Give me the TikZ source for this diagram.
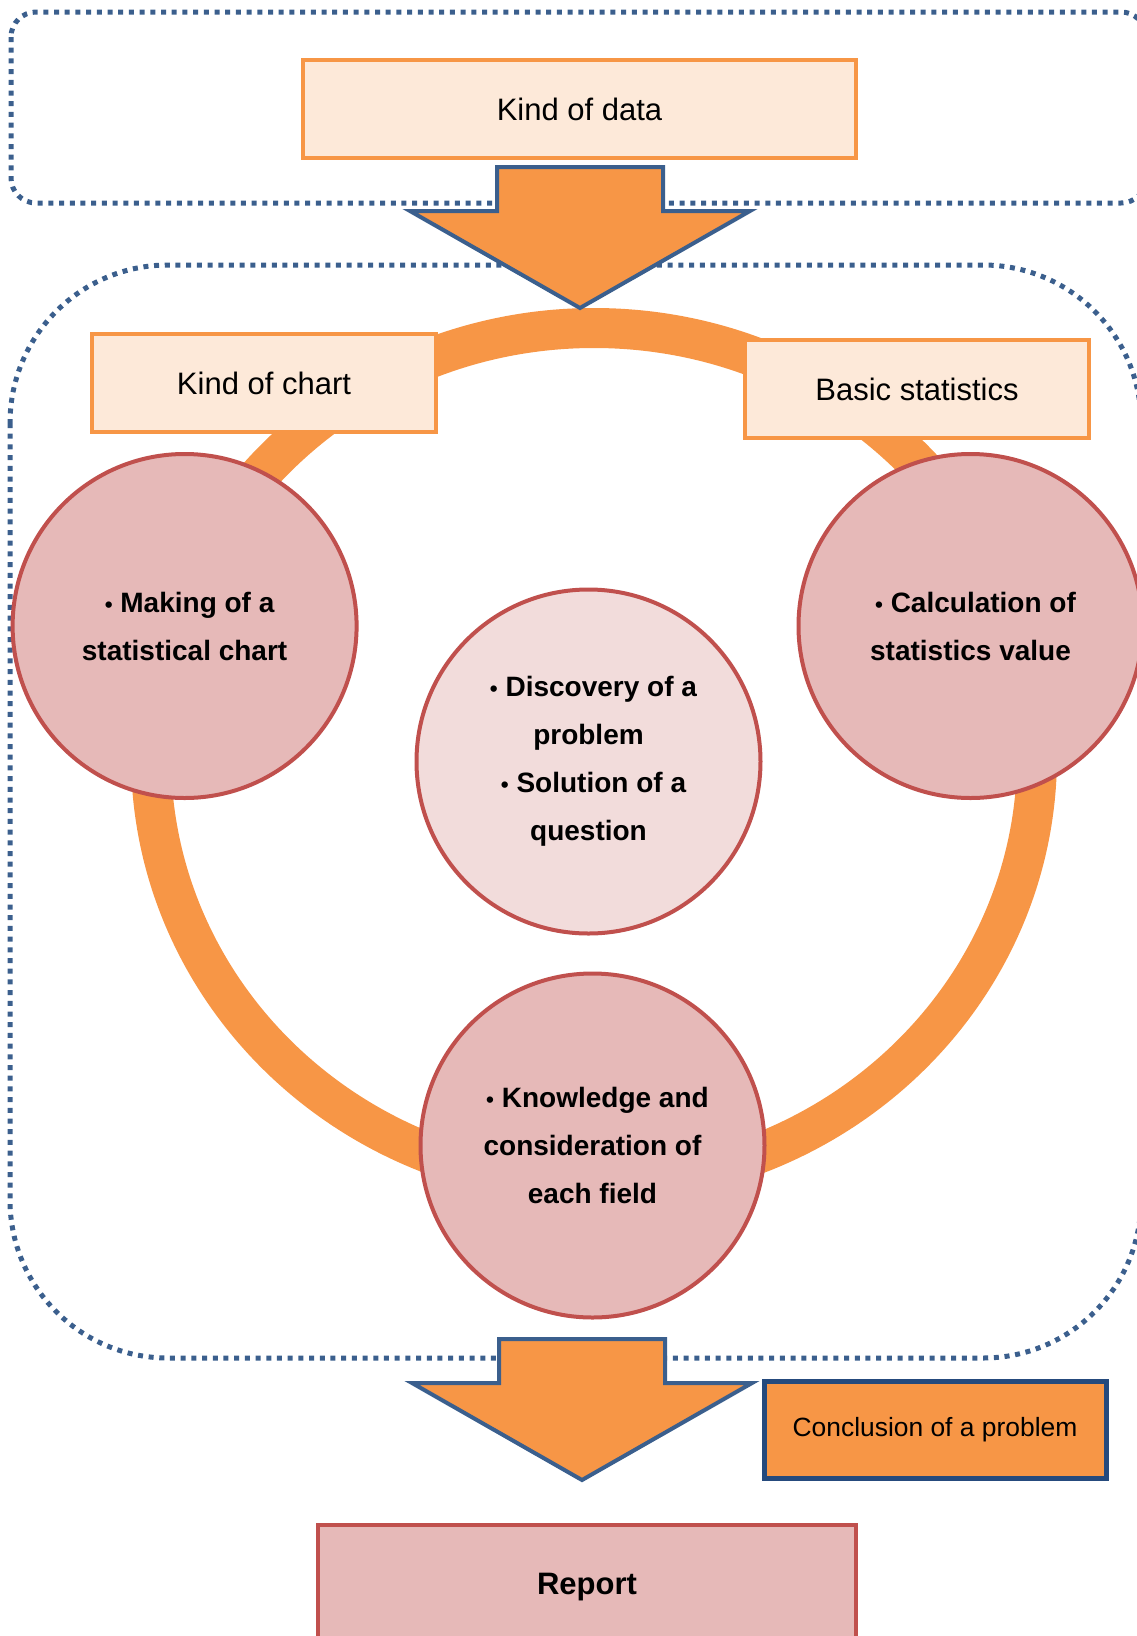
\documentclass[tikz,border=0pt]{standalone}
\usepackage{fontspec}
\setmainfont{Liberation Sans}
\usepackage{tikz}
\usetikzlibrary{positioning}
\definecolor{Pumpkin}{HTML}{F79646}
\definecolor{Peach}{HTML}{FDE9D9}
\definecolor{Brick}{HTML}{C0504D}
\definecolor{Rose}{HTML}{E6B9B8}
\definecolor{Blush}{HTML}{F2DCDB}
\definecolor{Steel}{HTML}{3B5F8D}
\definecolor{Navy}{HTML}{254A7D}

% bullet of the activity lists
\newcommand{\actdot}{\hspace*{10pt}\scalebox{0.8}{•}\ }

\tikzset{
  bigarrow/.pic={
    \draw[blockarrow] (-83,0) -- (83,0) -- (83,44) -- (170,44) -- (0,141)
      -- (-170,44) -- (-83,44) -- cycle;
  }
}

\begin{document}
\begin{tikzpicture}[
    x=1pt, y=-1pt,
    topic/.style={draw=Pumpkin, line width=4pt, fill=Peach, minimum width=344pt, minimum height=98pt, font=\fontsize{31}{36}\selectfont},
    task/.style={circle, draw=Brick, line width=4pt, fill=Rose, minimum size=344pt, align=center, font=\fontsize{28}{48}\selectfont\bfseries},
    region/.style={draw=Steel, line width=5pt, dash pattern=on 5pt off 5.7pt},
    ring/.style={draw=Pumpkin, line width=40pt},
    blockarrow/.style={draw=Steel, line width=4pt, fill=Pumpkin, line join=miter}
]
\useasboundingbox (0,0) rectangle (1137,1636);

% Dotted regions
\draw[region, rounded corners=25] (11,12) rectangle (1146,203);
\draw[region, rounded corners=158] (10,265) rectangle (1141,1358);

% Cycle ring
\draw[ring] (594,756) ellipse [x radius=443, y radius=428];

% Input
\node[topic, minimum width=553pt] (data) at (579.5,109) {Kind of data};

% Topics on the ring
\node[topic] (chart) at (264,383) {Kind of chart};
\node[topic] (basic) at (917,389) {Basic statistics};

% Activities
\node[task] (making) at (184.6,626) {\actdot Making of a\\statistical chart};
\node[task] (calc) at (970.5,626) {\actdot Calculation of\\statistics value};
\node[task, fill=Blush] (discover) at (588.5,761.5) {\actdot Discovery of a\\problem\\\actdot Solution of a\\question};
\node[task] (field) at (592.5,1145.5) {\actdot Knowledge and\\consideration of\\each field};

% Block arrows
\pic at (580,167) {bigarrow};
\pic at (582,1339) {bigarrow};

% Output
\node[draw=Navy, line width=5pt, fill=Pumpkin, minimum width=342pt, minimum height=97pt, font=\fontsize{26.4}{30}\selectfont] (concl) at (935,1430) {Conclusion of a problem};
\node[draw=Brick, line width=4pt, fill=Rose, minimum width=538pt, minimum height=124pt, font=\fontsize{31}{36}\selectfont\bfseries] (report) at (587,1587) {Report};

\end{tikzpicture}
\end{document}
